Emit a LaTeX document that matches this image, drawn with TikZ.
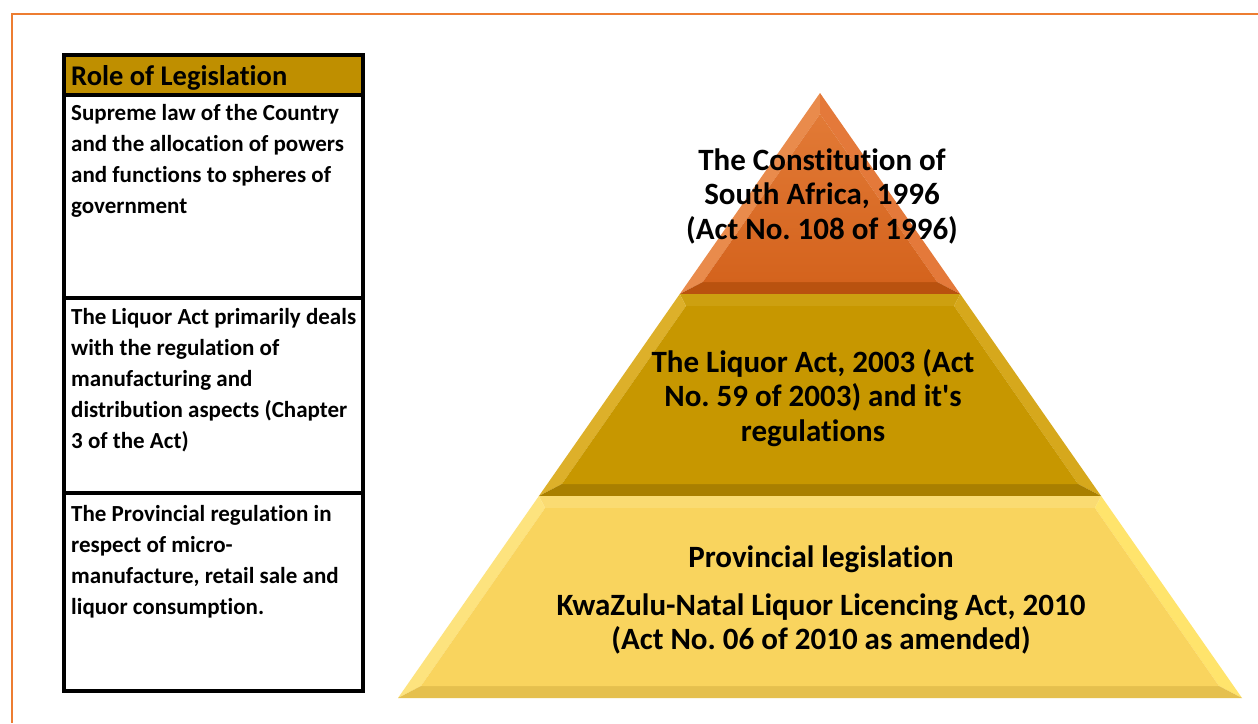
\documentclass[tikz,border=0pt]{standalone}
\usepackage{fontspec}
\setmainfont{Carlito}[Ligatures={NoCommon}]
\frenchspacing
\definecolor{frameor}{HTML}{ED7D31}
\definecolor{hdrgold}{HTML}{BF8F00}
\definecolor{oMain}{HTML}{D4631D}
\definecolor{oTop}{HTML}{E27A36}
\definecolor{oLeft}{HTML}{E98B4C}
\definecolor{oRight}{HTML}{E4793A}
\definecolor{oBot}{HTML}{B9520F}
\definecolor{gMain}{HTML}{C79700}
\definecolor{gTop}{HTML}{CDA010}
\definecolor{gLeft}{HTML}{DDB02A}
\definecolor{gRight}{HTML}{D6A81C}
\definecolor{gBot}{HTML}{A97F00}
\definecolor{yMain}{HTML}{F9D45E}
\definecolor{yTop}{HTML}{FADB72}
\definecolor{yLeft}{HTML}{FDE37E}
\definecolor{yRight}{HTML}{FFE46C}
\definecolor{yBot}{HTML}{E5C04E}
\begin{document}
\begin{tikzpicture}[x=1pt,y=-1pt,
  tabletext/.style={anchor=north west,inner sep=0pt,align=left,
    font=\bfseries\fontsize{23}{31}\selectfont},
  hdrtext/.style={anchor=base west,inner sep=0pt,
    font=\bfseries\fontsize{28.5}{34}\selectfont},
  pyrtext/.style={anchor=north,inner sep=0pt,align=center,
    font=\bfseries\fontsize{31}{34.5}\selectfont},
  tline/.style={line width=3.5pt}]
\useasboundingbox (0,0) rectangle (1258,723);
\fill[white] (0,0) rectangle (1258,723);
% orange frame
\draw[frameor,line width=2.5pt] (12,723) -- (12,14) -- (1258,14);
% table
\fill[hdrgold] (64,55) rectangle (363,95);
\draw[tline] (64,95) -- (363,95);
\draw[tline] (64,298) -- (363,298);
\draw[tline] (64,493) -- (363,493);
\draw[tline] (64,55) rectangle (363,691);
\node[hdrtext] (hdr) at (71,85) {Role of Legislation};
\node[tabletext] (r1) at (71,102) {\rule{0pt}{18pt}Supreme law of the Country\\and the allocation of powers\\and functions to spheres of\\government};
\node[tabletext] (r2) at (71,306) {\rule{0pt}{18pt}The Liquor Act primarily deals\\with the regulation of\\manufacturing and\\distribution aspects (Chapter\\3 of the Act)};
\node[tabletext] (r3) at (71,503) {\rule{0pt}{18pt}The Provincial regulation in\\respect of micro-\\manufacture, retail sale and\\liquor consumption.};
% tier 1
\fill[oLeft] (820,93) -- (679.8,294) -- (702.8,282) -- (820,114) -- cycle;
\fill[oRight] (820,93) -- (960.2,294) -- (937.2,282) -- (820,114) -- cycle;
\fill[oBot] (679.8,294) -- (960.2,294) -- (937.2,282) -- (702.8,282) -- cycle;
\shade[top color=oTop,bottom color=oMain] (820,114) -- (702.8,282) -- (937.2,282) -- cycle;
% tier 2
\fill[gTop] (679.8,294) -- (960.2,294) -- (954,306) -- (686,306) -- cycle;
\fill[gLeft] (679.8,294) -- (538.9,496) -- (561.9,484) -- (686,306) -- cycle;
\fill[gRight] (960.2,294) -- (1101.1,496) -- (1078.1,484) -- (954,306) -- cycle;
\fill[gBot] (538.9,496) -- (1101.1,496) -- (1078.1,484) -- (561.9,484) -- cycle;
\fill[gMain] (686,306) -- (954,306) -- (1078.1,484) -- (561.9,484) -- cycle;
% tier 3
\fill[yTop] (538.9,496) -- (1101.1,496) -- (1094.9,508) -- (545.1,508) -- cycle;
\fill[yLeft] (538.9,496) -- (398,698) -- (421,686) -- (545.1,508) -- cycle;
\fill[yRight] (1101.1,496) -- (1242,698) -- (1219,686) -- (1094.9,508) -- cycle;
\fill[yBot] (398,698) -- (1242,698) -- (1219,686) -- (421,686) -- cycle;
\fill[yMain] (545.1,508) -- (1094.9,508) -- (1219,686) -- (421,686) -- cycle;
% pyramid texts
\node[pyrtext] (t1) at (822,146) {\rule{0pt}{24pt}The Constitution of\\South Africa, 1996\\(Act No. 108 of 1996)};
\node[pyrtext] (t2) at (813,348) {\rule{0pt}{24pt}The Liquor Act, 2003 (Act\\No. 59 of 2003) and it\textquotesingle s\\regulations};
\node[pyrtext] (t3) at (821,543) {\rule{0pt}{24pt}Provincial legislation\\[13.5pt]KwaZulu-Natal Liquor Licencing Act, 2010\\(Act No. 06 of 2010 as amended)};
\end{tikzpicture}
\end{document}
